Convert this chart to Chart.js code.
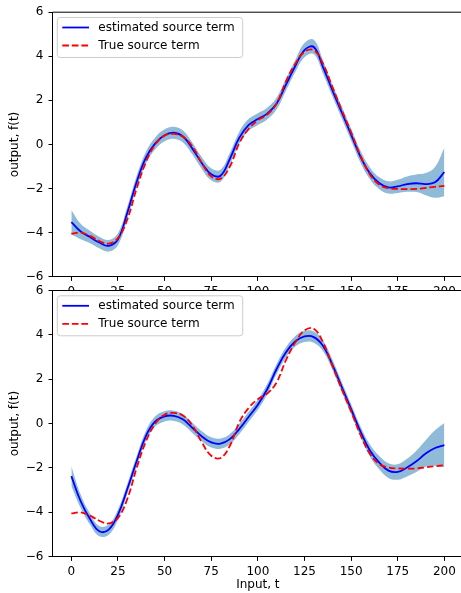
<!DOCTYPE html>
<html><head><meta charset="utf-8">
<script src="https://cdn.jsdelivr.net/npm/chart.js@4.4.1/dist/chart.umd.min.js"></script>
<style>
html,body{margin:0;padding:0;background:#fff;}
#wrap{position:relative;width:461px;height:593px;overflow:hidden;background:#fff;}
canvas{position:absolute;left:0;}
#c1{top:0;}
#c2{top:270px;}
</style></head><body>
<div id="wrap"><canvas id="c1" width="475" height="290"></canvas><canvas id="c2" width="475" height="323"></canvas></div>
<script>
const t = [0,5,10,15,20,25,30,35,40,45,50,55,60,65,70,75,80,85,90,95,100,105,110,115,120,125,130,135,140,145,150,155,160,165,170,175,180,185,190,195,200];
const trueSource = [-4.05,-4.0,-4.15,-4.38,-4.5,-4.25,-3.4,-2.0,-0.8,0.0,0.4,0.48,0.35,-0.1,-0.85,-1.45,-1.55,-1.0,0.05,0.7,1.1,1.35,1.85,2.85,3.65,4.2,4.28,3.65,2.6,1.55,0.55,-0.5,-1.35,-1.82,-1.98,-2.02,-2.03,-2.02,-1.97,-1.92,-1.88];
const estimatedTop = [-3.52,-3.95,-4.2,-4.45,-4.6,-4.3,-3.1,-1.7,-0.6,0.05,0.42,0.53,0.35,-0.2,-0.85,-1.35,-1.42,-0.65,0.3,0.88,1.15,1.4,1.85,2.7,3.55,4.28,4.42,3.5,2.45,1.45,0.45,-0.55,-1.3,-1.75,-1.95,-1.9,-1.8,-1.76,-1.8,-1.72,-1.25];
const upperTop = [-2.97,-3.6,-3.92,-4.19,-4.34,-4.03,-2.83,-1.43,-0.33,0.32,0.69,0.8,0.62,0.07,-0.58,-1.08,-1.15,-0.38,0.57,1.15,1.42,1.67,2.12,2.97,3.82,4.6,4.75,3.8,2.72,1.72,0.72,-0.28,-1.03,-1.48,-1.67,-1.6,-1.45,-1.36,-1.3,-1.02,-0.15];
const lowerTop = [-4.07,-4.3,-4.48,-4.71,-4.86,-4.57,-3.37,-1.97,-0.87,-0.22,0.15,0.26,0.08,-0.47,-1.12,-1.62,-1.69,-0.92,0.03,0.61,0.88,1.13,1.58,2.43,3.28,3.96,4.09,3.2,2.18,1.18,0.18,-0.82,-1.57,-2.02,-2.23,-2.2,-2.15,-2.16,-2.3,-2.42,-2.35];
const estimatedBottom = [-2.37,-3.5,-4.3,-4.85,-4.78,-4.1,-2.95,-1.7,-0.55,0.1,0.33,0.35,0.18,-0.2,-0.58,-0.85,-0.9,-0.7,-0.25,0.3,0.85,1.55,2.45,3.2,3.7,3.93,3.9,3.5,2.65,1.65,0.65,-0.35,-1.2,-1.75,-2.12,-2.18,-1.98,-1.7,-1.35,-1.1,-0.97];
const upperBottom = [-1.92,-3.2,-4.05,-4.62,-4.55,-3.87,-2.72,-1.47,-0.32,0.33,0.56,0.58,0.41,0.03,-0.35,-0.62,-0.67,-0.47,-0.02,0.53,1.08,1.78,2.68,3.43,3.94,4.18,4.15,3.74,2.88,1.88,0.88,-0.12,-0.93,-1.45,-1.79,-1.83,-1.58,-1.22,-0.75,-0.3,0.03];
const lowerBottom = [-2.82,-3.8,-4.55,-5.08,-5.01,-4.33,-3.18,-1.93,-0.78,-0.13,0.1,0.12,-0.05,-0.43,-0.81,-1.08,-1.13,-0.93,-0.48,0.07,0.62,1.32,2.22,2.97,3.46,3.68,3.65,3.26,2.42,1.42,0.42,-0.58,-1.47,-2.05,-2.45,-2.53,-2.38,-2.18,-1.95,-1.9,-1.97];
const xTicks = [0,25,50,75,100,125,150,175,200];
const yTicks = [-6,-4,-2,0,2,4,6];
const legendLabels = ['estimated source term','True source term'];
const xTitle = 'Input, t';
const yTitle = 'output, f(t)';

Chart.defaults.font.family = "'DejaVu Sans', sans-serif";
Chart.defaults.font.size = 12;
Chart.defaults.color = '#000';

const BLUE = '#0000ff', RED = '#ff0000', BAND = 'rgba(31,119,180,0.5)';
const DASH = [6.66, 2.88];
const TENSION = 0.4;
const fmt = v => v < 0 ? '\u2212' + (-v) : String(v);

const framePlugin = {
  id: 'frame',
  afterDraw(chart) {
    const a = chart.chartArea, ctx = chart.ctx;
    ctx.save();
    ctx.strokeStyle = '#000'; ctx.lineWidth = 1;
    ctx.beginPath();
    ctx.moveTo(a.left, a.top); ctx.lineTo(a.right, a.top); ctx.lineTo(a.right, a.bottom);
    ctx.stroke();
    ctx.restore();
  }
};

const legendPlugin = {
  id: 'boxLegend',
  afterDraw(chart) {
    const a = chart.chartArea, ctx = chart.ctx;
    const x0 = a.left + 4.6, y0 = a.top + 5.3, w = 185.4, h = 40, r = 3;
    ctx.save();
    ctx.beginPath();
    ctx.moveTo(x0 + r, y0);
    ctx.lineTo(x0 + w - r, y0); ctx.quadraticCurveTo(x0 + w, y0, x0 + w, y0 + r);
    ctx.lineTo(x0 + w, y0 + h - r); ctx.quadraticCurveTo(x0 + w, y0 + h, x0 + w - r, y0 + h);
    ctx.lineTo(x0 + r, y0 + h); ctx.quadraticCurveTo(x0, y0 + h, x0, y0 + h - r);
    ctx.lineTo(x0, y0 + r); ctx.quadraticCurveTo(x0, y0, x0 + r, y0);
    ctx.closePath();
    ctx.fillStyle = 'rgba(255,255,255,0.8)'; ctx.fill();
    ctx.strokeStyle = '#cccccc'; ctx.lineWidth = 1; ctx.stroke();
    const items = [
      {label: legendLabels[0], color: BLUE, dash: []},
      {label: legendLabels[1], color: RED, dash: DASH}
    ];
    items.forEach((it, i) => {
      const y = y0 + 10 + i * 18;
      ctx.beginPath();
      ctx.setLineDash(it.dash);
      ctx.strokeStyle = it.color; ctx.lineWidth = 1.8;
      ctx.moveTo(x0 + 5, y); ctx.lineTo(x0 + 31.7, y);
      ctx.stroke();
      ctx.setLineDash([]);
      ctx.fillStyle = '#000';
      ctx.font = "12px 'DejaVu Sans', sans-serif";
      ctx.textBaseline = 'middle'; ctx.textAlign = 'left';
      ctx.fillText(it.label, x0 + 41, y);
    });
    ctx.restore();
  }
};

function pts(arr) { return t.map((x, i) => ({x: x, y: arr[i]})); }

function makeChart(id, est, up, lo, padTop, xHeight, showXTitle) {
  return new Chart(document.getElementById(id), {
    type: 'line',
    data: {
      datasets: [
        {label: legendLabels[1], data: pts(trueSource), borderColor: RED, borderWidth: 1.8, borderDash: DASH, pointRadius: 0, fill: false, tension: TENSION},
        {label: legendLabels[0], data: pts(est), borderColor: BLUE, borderWidth: 1.8, pointRadius: 0, fill: false, tension: TENSION},
        {label: 'upper', data: pts(up), borderColor: 'rgba(0,0,0,0)', borderWidth: 0, backgroundColor: BAND, pointRadius: 0, fill: '+1', tension: TENSION},
        {label: 'lower', data: pts(lo), borderColor: 'rgba(0,0,0,0)', borderWidth: 0, backgroundColor: BAND, pointRadius: 0, fill: false, tension: TENSION}
      ]
    },
    options: {
      responsive: false, animation: false, devicePixelRatio: 1,
      layout: {padding: {top: padTop, left: 0, right: 12, bottom: 0}},
      plugins: {legend: {display: false}, tooltip: {enabled: false}},
      events: [],
      scales: {
        x: {
          type: 'linear', min: -10, max: 210,
          afterBuildTicks: s => { s.ticks = xTicks.map(v => ({value: v})); },
          afterFit: s => { s.height = xHeight; },
          ticks: {color: '#000', padding: 4, maxRotation: 0, autoSkip: false, callback: fmt},
          grid: {drawOnChartArea: false, drawTicks: true, tickLength: 4.2, color: '#000', tickWidth: 1},
          border: {color: '#000', width: 1},
          title: {display: showXTitle, text: xTitle, color: '#000', padding: {top: 0, bottom: 0.8}}
        },
        y: {
          type: 'linear', min: -6, max: 6,
          afterBuildTicks: s => { s.ticks = yTicks.map(v => ({value: v})); },
          afterFit: s => { s.width = 52.7; },
          ticks: {color: '#000', padding: 5, callback: fmt},
          grid: {drawOnChartArea: false, drawTicks: true, tickLength: 4.2, color: '#000', tickWidth: 1},
          border: {color: '#000', width: 1},
          title: {display: true, text: yTitle, color: '#000', padding: {top: 7.8, bottom: 0}}
        }
      }
    },
    plugins: [framePlugin, legendPlugin]
  });
}

makeChart('c1', estimatedTop, upperTop, lowerTop, 10.7, 13.3, false);
makeChart('c2', estimatedBottom, upperBottom, lowerBottom, 20.5, 36.3, true);
</script>
</body></html>
